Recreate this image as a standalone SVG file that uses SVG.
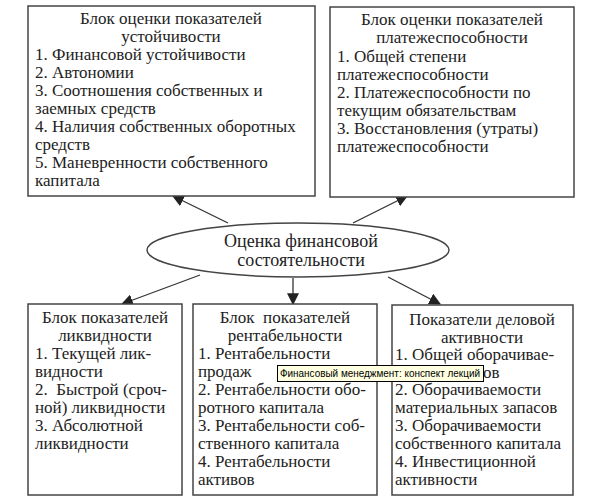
<svg xmlns="http://www.w3.org/2000/svg" width="608" height="503" viewBox="0 0 608 503">
<defs>
<style>
.box{fill:#fff;stroke:#444;stroke-width:1.5}
.t{font-family:"Liberation Serif","Times New Roman",serif;font-size:17px;fill:#222}
.c{text-anchor:middle}
.conn{stroke:#333;stroke-width:1.3;fill:none;marker-end:url(#ah)}
.tip{font-family:"Liberation Sans",Arial,sans-serif;font-size:10.5px;fill:#000}
</style>
<marker id="ah" viewBox="0 0 10 10" refX="9" refY="5" markerWidth="12" markerHeight="12" markerUnits="userSpaceOnUse" orient="auto">
<path d="M0,0 L10,5 L0,10 Z" fill="#222"/>
</marker>
</defs>
<rect width="608" height="503" fill="#fff"/>
<g id="connectors">
<line class="conn" x1="228" y1="223" x2="173" y2="196"/>
<line class="conn" x1="353" y1="223" x2="407" y2="196"/>
<line class="conn" x1="200" y1="275" x2="122" y2="304"/>
<line class="conn" x1="293" y1="278" x2="293" y2="304"/>
<line class="conn" x1="388" y1="277" x2="440" y2="304"/>
</g>
<g id="node-stability">
<rect class="box" x="28" y="6" width="287" height="190"/>
<text class="t c" x="171" y="24">Блок оценки показателей</text>
<text class="t c" x="171" y="42">устойчивости</text>
<text class="t" x="35" y="60">1. Финансовой устойчивости</text>
<text class="t" x="35" y="78">2. Автономии</text>
<text class="t" x="35" y="96">3. Соотношения собственных и</text>
<text class="t" x="35" y="114">заемных средств</text>
<text class="t" x="35" y="132">4. Наличия собственных оборотных</text>
<text class="t" x="35" y="150">средств</text>
<text class="t" x="35" y="168">5. Маневренности собственного</text>
<text class="t" x="35" y="186">капитала</text>
</g>
<g id="node-solvency">
<rect class="box" x="330" y="7" width="244" height="190"/>
<text class="t c" x="452" y="25">Блок оценки показателей</text>
<text class="t c" x="452" y="43">платежеспособности</text>
<text class="t" x="337" y="62">1. Общей степени</text>
<text class="t" x="337" y="80">платежеспособности</text>
<text class="t" x="337" y="98">2. Платежеспособности по</text>
<text class="t" x="337" y="116">текущим обязательствам</text>
<text class="t" x="337" y="134">3. Восстановления (утраты)</text>
<text class="t" x="337" y="152">платежеспособности</text>
</g>
<g id="node-center">
<ellipse cx="298" cy="250" rx="151" ry="27" fill="#fff" stroke="#444" stroke-width="1.5"/>
<text class="t c" x="301" y="247" style="font-size:18px">Оценка финансовой</text>
<text class="t c" x="301" y="266" style="font-size:18px">состоятельности</text>
</g>
<g id="node-liquidity">
<rect class="box" x="28" y="304" width="154" height="191"/>
<text class="t c" x="105" y="323">Блок показателей</text>
<text class="t c" x="105" y="341">ликвидности</text>
<text class="t" x="35" y="359">1. Текущей лик-</text>
<text class="t" x="35" y="377">видности</text>
<text class="t" x="35" y="395" xml:space="preserve">2.  Быстрой (сроч-</text>
<text class="t" x="35" y="413">ной) ликвидности</text>
<text class="t" x="35" y="431">3. Абсолютной</text>
<text class="t" x="35" y="449">ликвидности</text>
</g>
<g id="node-profitability">
<rect class="box" x="193" y="304" width="184" height="191"/>
<text class="t c" x="285" y="323" xml:space="preserve">Блок  показателей</text>
<text class="t c" x="285" y="341">рентабельности</text>
<text class="t" x="198" y="359">1. Рентабельности</text>
<text class="t" x="198" y="377">продаж</text>
<text class="t" x="198" y="395">2. Рентабельности обо-</text>
<text class="t" x="198" y="413">ротного капитала</text>
<text class="t" x="198" y="431">3. Рентабельности соб-</text>
<text class="t" x="198" y="449">ственного капитала</text>
<text class="t" x="198" y="467">4. Рентабельности</text>
<text class="t" x="198" y="485">активов</text>
</g>
<g id="node-activity">
<rect class="box" x="392" y="305" width="181" height="190"/>
<text class="t c" x="482" y="325">Показатели деловой</text>
<text class="t c" x="482" y="343">активности</text>
<text class="t" x="395" y="360">1. Общей оборачивае-</text>
<text class="t" x="395" y="378">мости активов</text>
<text class="t" x="395" y="395">2. Оборачиваемости</text>
<text class="t" x="395" y="413">материальных запасов</text>
<text class="t" x="395" y="431">3. Оборачиваемости</text>
<text class="t" x="395" y="449">собственного капитала</text>
<text class="t" x="395" y="467">4. Инвестиционной</text>
<text class="t" x="395" y="485">активности</text>
</g>
<g id="tooltip">
<rect x="277.5" y="365.5" width="206" height="16" fill="#ffffe1" stroke="#000" stroke-width="1"/>
<text class="tip" x="280" y="377" textLength="200" lengthAdjust="spacingAndGlyphs">Финансовый менеджмент: конспект лекций</text>
</g>
</svg>
